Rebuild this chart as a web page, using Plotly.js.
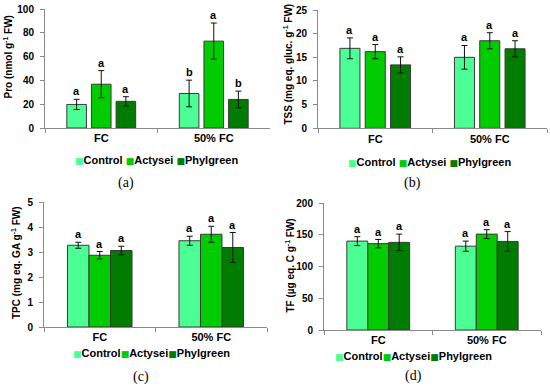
<!DOCTYPE html>
<html>
<head>
<meta charset="utf-8">
<script src="https://cdn.plot.ly/plotly-3.0.1.min.js"></script>
<style>html,body{margin:0;padding:0;background:#fff;}#chart{width:550px;height:388px;}</style>
</head>
<body>
<div id="chart"></div>
<script>
// ---- data ----
const groups = ['FC', '50% FC'];
const seriesNames = ['Control', 'Actysei', 'Phylgreen'];
const seriesColors = ['#4CFF95', '#00CC00', '#007D00'];

// (a) Proline
const proControl = [19.8, 29.0];
const proControlErr = [4.3, 11.2];
const proActysei = [36.8, 73.0];
const proActyseiErr = [11.4, 15.2];
const proPhylgreen = [22.4, 24.0];
const proPhylgreenErr = [3.9, 7.0];
const proLetters = [['a', 'b'], ['a', 'a'], ['a', 'b']];

// (b) TSS
const tssControl = [16.9, 15.0];
const tssControlErr = [2.2, 2.5];
const tssActysei = [16.2, 18.5];
const tssActyseiErr = [1.5, 1.7];
const tssPhylgreen = [13.4, 16.8];
const tssPhylgreenErr = [1.7, 1.7];
const tssLetters = [['a', 'a'], ['a', 'a'], ['a', 'a']];

// (c) TPC
const tpcControl = [3.27, 3.45];
const tpcControlErr = [0.12, 0.18];
const tpcActysei = [2.87, 3.71];
const tpcActyseiErr = [0.15, 0.32];
const tpcPhylgreen = [3.06, 3.18];
const tpcPhylgreenErr = [0.17, 0.60];
const tpcLetters = [['a', 'a'], ['a', 'a'], ['a', 'a']];

// (d) TF
const tfControl = [140, 132];
const tfControlErr = [7, 8];
const tfActysei = [136, 151];
const tfActyseiErr = [6.5, 7];
const tfPhylgreen = [138, 139.5];
const tfPhylgreenErr = [13, 15.5];
const tfLetters = [['a', 'a'], ['a', 'a'], ['a', 'a']];

// ---- layout helpers ----
const W = 550, H = 388;
const fx = x => x / W;
const fy = y => 1 - y / H;
const FONT = '"Liberation Sans", Arial, sans-serif';
const SERIF = '"Liberation Serif", "Times New Roman", serif';

const panels = [
  {vals: [proControl, proActysei, proPhylgreen], errs: [proControlErr, proActyseiErr, proPhylgreenErr], letters: proLetters,
   xd: [45, 270], yd: [9, 128], ymax: 100, dtick: 20, title: 'Pro (nmol g<sup>-1</sup> FW)', tx: 7.5, ty: 57,
   bw: 0.174, slot: 0.219, lx: 156, ly: 160, sep: ' ', cap: '(a)', cx: 126, cy: 183},
  {vals: [tssControl, tssActysei, tssPhylgreen], errs: [tssControlErr, tssActyseiErr, tssPhylgreenErr], letters: tssLetters,
   xd: [318, 547], yd: [10, 128.3], ymax: 25, dtick: 5, title: 'TSS (mg eq. gluc. g<sup>-1</sup> FW)', tx: 287.5, ty: 64,
   bw: 0.175, slot: 0.221, lx: 429, ly: 162, sep: ' ', cap: '(b)', cx: 412, cy: 183},
  {vals: [tpcControl, tpcActysei, tpcPhylgreen], errs: [tpcControlErr, tpcActyseiErr, tpcPhylgreenErr], letters: tpcLetters,
   xd: [44, 267], yd: [202, 327], ymax: 5, dtick: 1, title: 'TPC (mg eq. GA g<sup>-1</sup> FW)', tx: 16, ty: 263,
   bw: 0.193, slot: 0.193, lx: 151, ly: 353, sep: '', cap: '(c)', cx: 141, cy: 377},
  {vals: [tfControl, tfActysei, tfPhylgreen], errs: [tfControlErr, tfActyseiErr, tfPhylgreenErr], letters: tfLetters,
   xd: [324, 541], yd: [203, 330], ymax: 200, dtick: 50, title: 'TF (µg eq. C g<sup>-1</sup> FW)', tx: 289.5, ty: 266,
   bw: 0.193, slot: 0.193, lx: 413.5, ly: 356, sep: '', cap: '(d)', cx: 413, cy: 376}
];

const traces = [];
const annotations = [];
const layout = {
  width: W, height: H,
  margin: {l: 0, r: 0, t: 0, b: 0},
  paper_bgcolor: '#fff', plot_bgcolor: '#fff',
  barmode: 'overlay',
  showlegend: false,
  font: {family: FONT, size: 10, color: '#000'},
  annotations: annotations
};

panels.forEach((p, i) => {
  const n = i === 0 ? '' : String(i + 1);
  const xa = 'x' + n, ya = 'y' + n;
  layout['xaxis' + n] = {
    domain: [fx(p.xd[0]), fx(p.xd[1])], anchor: ya, type: 'category',
    range: [-0.5, 1.5], showgrid: false, zeroline: false,
    showline: true, linecolor: '#8a8a8a', linewidth: 1,
    ticks: 'outside', tickson: 'boundaries', ticklen: 4, tickcolor: '#8a8a8a',
    tickfont: {family: FONT, size: 11, weight: 'bold', color: '#000'}, fixedrange: true
  };
  layout['yaxis' + n] = {
    domain: [fy(p.yd[1]), fy(p.yd[0])], anchor: xa,
    range: [0, p.ymax], dtick: p.dtick, tick0: 0, showgrid: false, zeroline: false,
    showline: true, linecolor: '#8a8a8a', linewidth: 1,
    ticks: 'outside', ticklen: 4, tickcolor: '#8a8a8a', ticklabelstandoff: 4,
    tickfont: {family: FONT, size: 10, weight: 'bold', color: '#000'}, fixedrange: true
  };
  const start = -1.5 * p.slot + (p.slot - p.bw) / 2;
  p.vals.forEach((v, s) => {
    const off = start + s * p.slot;
    traces.push({
      type: 'bar', name: seriesNames[s], x: groups, y: v,
      xaxis: xa, yaxis: ya, width: p.bw, offset: off,
      marker: {color: seriesColors[s], line: {color: '#3a3a3a', width: 1}},
      error_y: {type: 'data', array: p.errs[s], visible: true, color: '#111', thickness: 1, width: 3},
      hoverinfo: 'skip', showlegend: false
    });
    v.forEach((val, g) => {
      annotations.push({
        xref: xa, yref: ya, x: g + off + p.bw / 2, y: val + p.errs[s][g],
        text: p.letters[s][g], showarrow: false, yanchor: 'bottom', xanchor: 'center', yshift: 0,
        font: {family: FONT, size: 11, weight: 'bold', color: '#000'}
      });
    });
  });
  // y-axis title
  annotations.push({
    xref: 'paper', yref: 'paper', x: fx(p.tx), y: fy(p.ty), text: p.title,
    textangle: -90, showarrow: false, xanchor: 'center', yanchor: 'middle',
    font: {family: FONT, size: 10, weight: 'bold', color: '#000'}
  });
  // legend row
  const legText = seriesNames.map((nm, s) =>
    '<span style="color:' + seriesColors[s] + ';font-family:DejaVu Sans;font-size:9px">■</span>' + nm).join(p.sep);
  annotations.push({
    xref: 'paper', yref: 'paper', x: fx(p.lx), y: fy(p.ly), text: legText,
    showarrow: false, xanchor: 'center', yanchor: 'middle',
    font: {family: FONT, size: 11, weight: 'bold', color: '#000'}
  });
  // caption
  annotations.push({
    xref: 'paper', yref: 'paper', x: fx(p.cx), y: fy(p.cy), text: p.cap,
    showarrow: false, xanchor: 'center', yanchor: 'middle',
    font: {family: SERIF, size: 14, color: '#000'}
  });
});

Plotly.newPlot('chart', traces, layout, {staticPlot: true, displayModeBar: false});
</script>
</body>
</html>
